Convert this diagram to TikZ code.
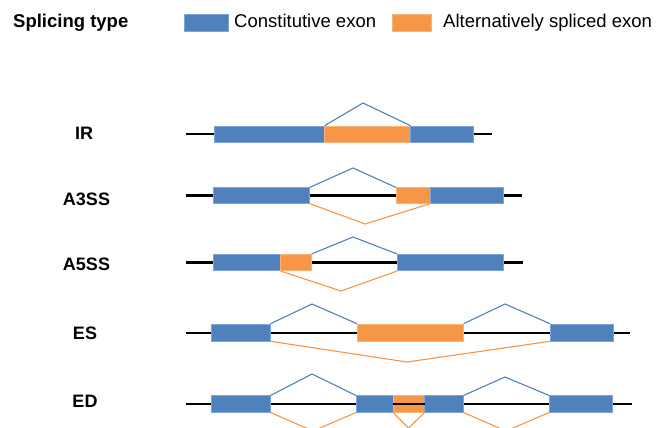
\documentclass[tikz,border=0pt]{standalone}
\usepackage{fontspec}
\setmainfont{Liberation Sans}
\definecolor{exonblue}{HTML}{4F81BD}
\definecolor{exonblueedge}{HTML}{7FA5D6}
\definecolor{exonorange}{HTML}{F79646}
\definecolor{exonorangeedge}{HTML}{F9B47A}
\tikzset{
  intron/.style={line width=2.8pt, black},
  constexon/.style={rectangle, inner sep=0pt, fill=exonblue, draw=exonblueedge, line width=0.6pt, anchor=west},
  altexon/.style={rectangle, inner sep=0pt, fill=exonorange, draw=exonorangeedge, line width=0.6pt, anchor=west},
  incjoin/.style={exonblue, line width=1.1pt, line join=miter},
  skipjoin/.style={exonorange, line width=1.1pt, line join=miter},
  rowlabel/.style={inner sep=0pt, anchor=center, font=\fontsize{18}{21}\selectfont\bfseries},
  legendtext/.style={inner sep=0pt, anchor=base west, font=\fontsize{18.5}{22}\selectfont},
}
\begin{document}
\begin{tikzpicture}[x=1pt, y=-1pt]
\useasboundingbox (0,0) rectangle (656,428);

% legend
\node[legendtext, font=\fontsize{18.5}{22}\selectfont\bfseries] (title) at (13,28) {Splicing type};
\node[constexon, minimum width=44pt, minimum height=17pt] (legc) at (184,22.5) {};
\node[legendtext] (legctext) at (234,28) {Constitutive exon};
\node[altexon, minimum width=39pt, minimum height=17pt] (lega) at (392,22.5) {};
\node[legendtext] (legatext) at (443,28) {Alternatively spliced exon};

% row labels
\node[rowlabel] (lIR) at (84,133) {IR};
\node[rowlabel] (lA3) at (86.5,199) {A3SS};
\node[rowlabel] (lA5) at (86.5,264) {A5SS};
\node[rowlabel] (lES) at (85,333) {ES};
\node[rowlabel] (lED) at (85,401) {ED};

% ---- IR ----
\coordinate (irs) at (186,134);
\coordinate (ire) at (492,134);
\draw[intron] (irs) -- (ire);
\node[constexon, minimum width=110pt, minimum height=16pt] (ir1) at (214,134) {};
\node[altexon, minimum width=86pt, minimum height=16pt] (iro) at (324,134) {};
\node[constexon, minimum width=63pt, minimum height=16pt] (ir2) at (410,134) {};
\coordinate (irp) at (363,103);
\draw[incjoin] (ir1.north east) -- (irp) -- (iro.north east);

% ---- A3SS ----
\coordinate (a3s) at (186,195.5);
\coordinate (a3e) at (522,195.5);
\draw[intron] (a3s) -- (a3e);
\node[constexon, minimum width=96pt, minimum height=15.5pt] (a31) at (213,195.5) {};
\node[altexon, minimum width=34pt, minimum height=15.5pt] (a3o) at (396,195.5) {};
\node[constexon, minimum width=73pt, minimum height=15.5pt] (a32) at (430,195.5) {};
\coordinate (a3p) at (353,168);
\coordinate (a3q) at (365,224);
\draw[incjoin] (a31.north east) -- (a3p) -- (a3o.north west);
\draw[skipjoin] (a31.south east) -- (a3q) -- (a3o.south east);

% ---- A5SS ----
\coordinate (a5s) at (186,262.5);
\coordinate (a5e) at (523,262.5);
\draw[intron] (a5s) -- (a5e);
\node[constexon, minimum width=67pt, minimum height=16.5pt] (a51) at (213,262.5) {};
\node[altexon, minimum width=31pt, minimum height=16.5pt] (a5o) at (280,262.5) {};
\node[constexon, minimum width=106pt, minimum height=16.5pt] (a52) at (397,262.5) {};
\coordinate (a5p) at (353,237);
\coordinate (a5q) at (341,291);
\draw[incjoin] (a5o.north east) -- (a5p) -- (a52.north west);
\draw[skipjoin] (a51.south east) -- (a5q) -- (a52.south west);

% ---- ES ----
\coordinate (ess) at (186,333);
\coordinate (ese) at (630,333);
\draw[intron] (ess) -- (ese);
\node[constexon, minimum width=59pt, minimum height=17pt] (es1) at (211,332.5) {};
\node[altexon, minimum width=106pt, minimum height=17pt] (eso) at (357,332.5) {};
\node[constexon, minimum width=63pt, minimum height=17pt] (es2) at (550,332.5) {};
\coordinate (esp1) at (312,304);
\coordinate (esp2) at (505,304);
\coordinate (esq) at (407,362);
\draw[incjoin] (es1.north east) -- (esp1) -- (eso.north west);
\draw[incjoin] (eso.north east) -- (esp2) -- (es2.north west);
\draw[skipjoin] (es1.south east) -- (esq) -- (es2.south west);

% ---- ED ----
\coordinate (eds) at (186,404);
\coordinate (ede) at (632,404);
\draw[intron] (eds) -- (ede);
\node[constexon, minimum width=59pt, minimum height=16.5pt] (ed1) at (211,404) {};
\node[constexon, minimum width=37pt, minimum height=16.5pt] (ed2) at (356,404) {};
\node[altexon, minimum width=31pt, minimum height=16.5pt] (edo) at (393,404) {};
\node[constexon, minimum width=39pt, minimum height=16.5pt] (ed3) at (424,404) {};
\node[constexon, minimum width=63pt, minimum height=16.5pt] (ed4) at (549,404) {};
\draw[intron] (edo.west) -- (edo.east);
\coordinate (edp1) at (312,374);
\coordinate (edp2) at (505,377);
\coordinate (edq1) at (313,431);
\coordinate (edq2) at (408.5,428);
\coordinate (edq3) at (506,431);
\draw[incjoin] (ed1.north east) -- (edp1) -- (ed2.north west);
\draw[incjoin] (ed3.north east) -- (edp2) -- (ed4.north west);
\draw[skipjoin] (ed1.south east) -- (edq1) -- (ed2.south west);
\draw[skipjoin] (edo.south west) -- (edq2) -- (edo.south east);
\draw[skipjoin] (ed3.south east) -- (edq3) -- (ed4.south west);
\end{tikzpicture}
\end{document}
